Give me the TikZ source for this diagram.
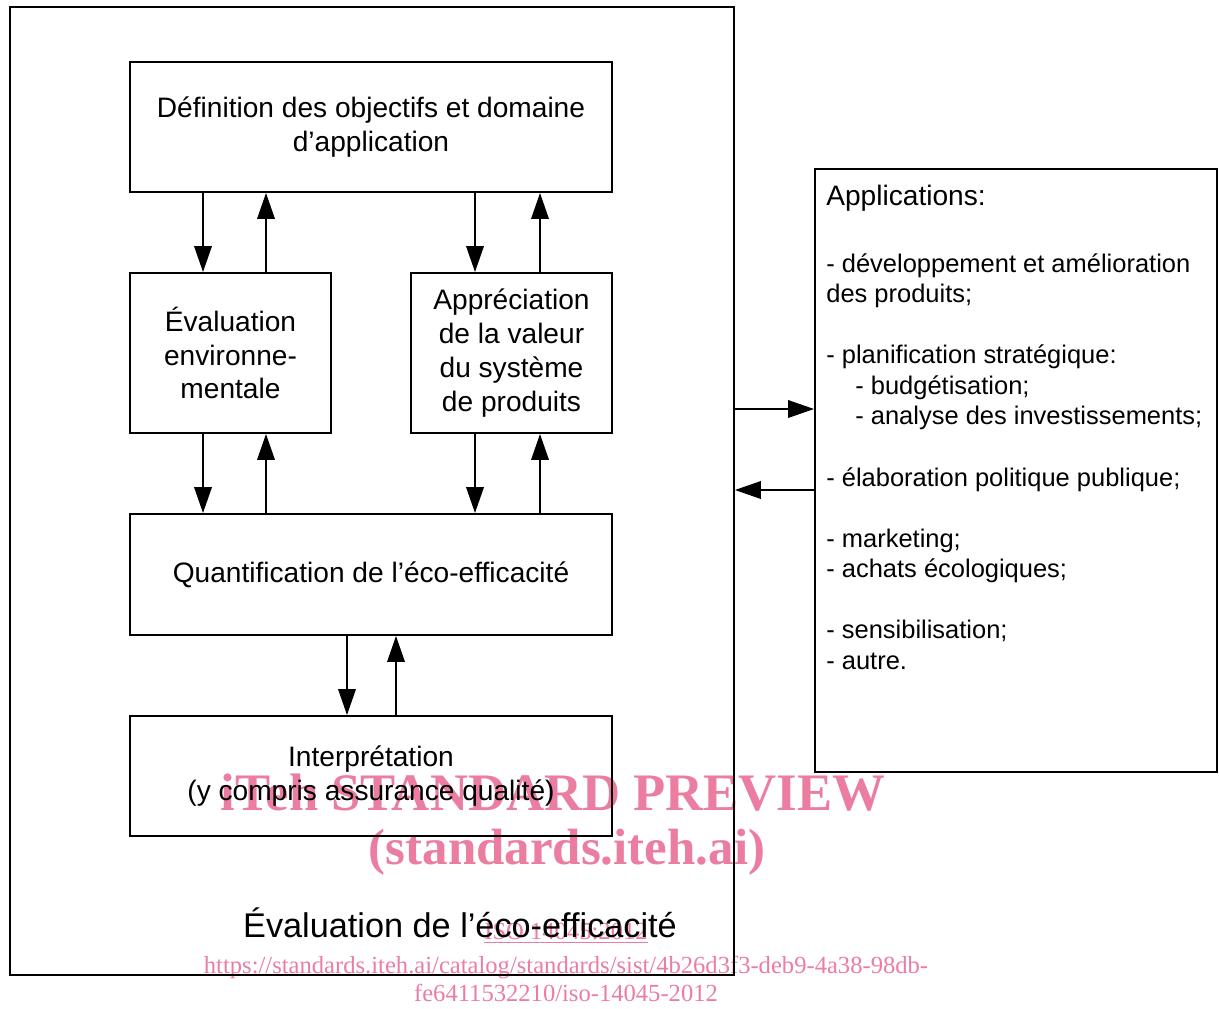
\documentclass[tikz,border=0pt]{standalone}
\usepackage{fontspec}
\setmainfont{Liberation Sans}
\newfontfamily\wmfont{Liberation Serif}
\usetikzlibrary{arrows.meta,calc}
\definecolor{wmpink}{RGB}{235,125,160}

\tikzset{
  box/.style={draw, line width=1.1pt, align=center, inner sep=0pt,
    font=\fontsize{16}{19.3}\selectfont},
  arr/.style={line width=1.1pt, -{Triangle[length=0.52cm,width=0.35cm]}},
  wm/.style={text=wmpink, align=center, inner sep=0pt},
}

\begin{document}
\begin{tikzpicture}[x=0.02cm,y=-0.02cm]
            \useasboundingbox (0,0) rectangle (1219,1008);

            % watermark, behind the drawing
            \node (wm1) at (553,793) [wm, font=\wmfont\bfseries\fontsize{30}{34}\selectfont]{iTeh STANDARD PREVIEW};
            \node (wm2) at (567,852) [wm, font=\wmfont\bfseries\fontsize{29}{34}\selectfont]{(standards.iteh.ai)};
            \node (wm3) at (566,933) [wm, font=\wmfont\fontsize{14}{16}\selectfont]{\underline{ISO 14045:2012}};
            \node (wm4) at (566,979) [wm, font=\wmfont\fontsize{14}{15.9}\selectfont]{https://standards.iteh.ai/catalog/standards/sist/4b26d3f3-deb9-4a38-98db-\\fe6411532210/iso-14045-2012};

            % main frame and steps
            \node (outer) at (372,491) [box, minimum width=14.48cm, minimum height=19.36cm]{};
            \node (def) at (371,127) [box, minimum width=9.64cm, minimum height=2.6cm]{D\'efinition des objectifs et domaine\\d’application};
            \node (env) at (230.5,353) [box, minimum width=4.02cm, minimum height=3.2cm]{\'Evaluation\\environne-\\mentale};
            \node (appr) at (511.5,353) [box, minimum width=4.02cm, minimum height=3.2cm]{Appr\'eciation\\de la valeur\\du syst\`eme\\de produits};
            \node (quant) at (371,574.5) [box, minimum width=9.64cm, minimum height=2.42cm]{Quantification de l’\'eco-efficacit\'e};
            \node (interp) at (371,776) [box, minimum width=9.64cm, minimum height=2.4cm]{Interpr\'etation\\(y compris assurance qualit\'e)};
            \node (outertxt) at (460,923) [font=\fontsize{19.5}{23}\selectfont]{\'Evaluation de l’\'eco-efficacit\'e};

            % applications
            \node (apps) at (1016,470.5) [box, minimum width=8.04cm, minimum height=12.06cm]{};
            \node (appshead) at (826,185) [anchor=north west, inner sep=0pt,
                font=\fontsize{16}{19}\selectfont]{Applications:};
            \node (appstxt) at (826,253) [anchor=north west, align=left, inner sep=0pt,
                font=\fontsize{14.5}{17.4}\selectfont]{- d\'eveloppement et am\'elioration\\des produits;\\[17.4pt]
                - planification strat\'egique:\\
                \hspace*{0.58cm}- budg\'etisation;\\
                \hspace*{0.58cm}- analyse des investissements;\\[17.4pt]
                - \'elaboration politique publique;\\[17.4pt]
                - marketing;\\
                - achats \'ecologiques;\\[17.4pt]
                - sensibilisation;\\
                - autre.};

            % two-way arrows between steps
            \foreach \hi/\lo/\r/\dn/\up in {def/env/env/-27.5/35.5, def/appr/appr/-36.5/28.5,
                env/quant/env/-27.5/35.5, appr/quant/appr/-36.5/28.5, quant/interp/quant/-24/25}
            {
                \draw[arr] ($(\hi.south -| \r)+(\dn,0)$) -- ($(\lo.north -| \r)+(\dn,0)$);
                \draw[arr] ($(\lo.north -| \r)+(\up,0)$) -- ($(\hi.south -| \r)+(\up,0)$);
            }

            \draw[arr] ($(outer.east |- apps.west)+(0,-61.5)$) -- ($(apps.west)+(0,-61.5)$);
            \draw[arr] ($(apps.west)+(0,19.5)$) -- ($(outer.east |- apps.west)+(0,19.5)$);

\end{tikzpicture}
\end{document}
